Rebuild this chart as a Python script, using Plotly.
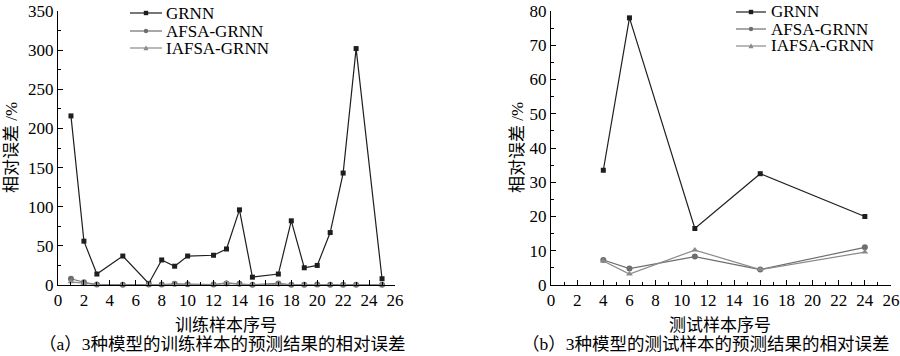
import plotly.graph_objects as go

# ---------------- data ----------------
train_x = [1, 2, 3, 5, 7, 8, 9, 10, 12, 13, 14, 15, 17, 18, 19, 20, 21, 22, 23, 25]
train_grnn = [216, 56, 14, 37, 2, 32, 24, 37, 38, 46, 96, 10, 14, 82, 22, 25, 67, 143, 302, 8]
train_afsa = [8, 3.5, 0.5, 0.3, 0.5, 0.5, 1.5, 1, 0.5, 2, 1.5, 0.3, 2, 0.3, 0.3, 0.5, 0.3, 0.3, 0.3, 0.3]
train_iafsa = [4, 2, 0.5, 0.3, 0.3, 0.3, 1, 0.5, 0.3, 3, 1, 0.3, 1, 0.3, 0.3, 0.3, 0.3, 0.3, 0.3, 0.3]

test_x = [4, 6, 11, 16, 24]
test_grnn = [33.5, 78, 16.5, 32.5, 20]
test_afsa = [7.3, 4.8, 8.3, 4.5, 11]
test_iafsa = [7.0, 3.2, 10.2, 4.5, 9.6]

series_names = ["GRNN", "AFSA-GRNN", "IAFSA-GRNN"]
x_ticks = list(range(0, 27, 2))

SERIF = "Liberation Serif, Times New Roman, Noto Sans CJK SC"
CJK = "Noto Sans CJK SC"

styles = [
    dict(color="#1e1e1e", symbol="square", size=5),
    dict(color="#6e6e6e", symbol="circle", size=6),
    dict(color="#8a8a8a", symbol="triangle-up", size=6),
]

fig = go.Figure()

def add_set(xs, ys_list, xa, ya):
    for name, ys, st in zip(series_names, ys_list, styles):
        fig.add_trace(go.Scatter(
            x=xs, y=ys, mode="lines+markers", name=name, showlegend=False,
            line=dict(color=st["color"], width=1.2),
            marker=dict(color=st["color"], symbol=st["symbol"], size=st["size"]),
            xaxis=xa, yaxis=ya, cliponaxis=False,
        ))

add_set(train_x, [train_grnn, train_afsa, train_iafsa], "x", "y")
add_set(test_x, [test_grnn, test_afsa, test_iafsa], "x2", "y2")

W, H = 900, 356
def px(x):
    return x / W
def py(y):
    return 1 - y / H

axis_common = dict(
    showline=True, linecolor="black", linewidth=1,
    ticks="inside", ticklen=5, tickcolor="black", tickwidth=1,
    showgrid=False, zeroline=False, automargin=False,
    tickfont=dict(family=SERIF, size=17, color="black"),
)

xminor = dict(ticks="inside", ticklen=3, tickmode="linear", tick0=0, dtick=1, tickcolor="black")

fig.update_layout(
    width=W, height=H,
    margin=dict(l=0, r=0, t=0, b=0, autoexpand=False),
    paper_bgcolor="white", plot_bgcolor="white",
    showlegend=False,
    xaxis=dict(domain=[px(58), px(395)], anchor="y", range=[0, 26],
               tickmode="array", tickvals=x_ticks, ticktext=[str(v) for v in x_ticks],
               minor=xminor, **axis_common),
    yaxis=dict(domain=[py(285), py(11)], anchor="x", range=[0, 350], dtick=50,
               minor=dict(ticks="inside", ticklen=3, dtick=25, tickcolor="black"),
               **axis_common),
    xaxis2=dict(domain=[px(551), px(891)], anchor="y2", range=[0, 26],
                tickmode="array", tickvals=x_ticks, ticktext=[str(v) for v in x_ticks],
                minor=xminor, **axis_common),
    yaxis2=dict(domain=[py(285), py(11)], anchor="x2", range=[0, 80], dtick=10,
                minor=dict(ticks="inside", ticklen=3, dtick=5, tickcolor="black"),
                **axis_common),
)

# ---------------- custom legends (paper coordinates) ----------------
def add_legend(x0, x1, xtext, ys):
    for name, st, yy in zip(series_names, styles, ys):
        fig.add_shape(type="line", xref="paper", yref="paper",
                      x0=px(x0), x1=px(x1), y0=py(yy), y1=py(yy),
                      line=dict(color=st["color"], width=1.2))
        cx = (x0 + x1) / 2
        r = 2.2
        if st["symbol"] == "square":
            fig.add_shape(type="rect", xref="paper", yref="paper",
                          x0=px(cx - r), x1=px(cx + r), y0=py(yy + r), y1=py(yy - r),
                          fillcolor=st["color"], line=dict(width=0))
        elif st["symbol"] == "circle":
            fig.add_shape(type="circle", xref="paper", yref="paper",
                          x0=px(cx - r), x1=px(cx + r), y0=py(yy + r), y1=py(yy - r),
                          fillcolor=st["color"], line=dict(width=0))
        else:
            path = "M {} {} L {} {} L {} {} Z".format(
                px(cx - r - 0.3), py(yy + r), px(cx + r + 0.3), py(yy + r), px(cx), py(yy - r - 0.5))
            fig.add_shape(type="path", xref="paper", yref="paper", path=path,
                          fillcolor=st["color"], line=dict(width=0))
        fig.add_annotation(xref="paper", yref="paper", showarrow=False,
                           x=px(xtext), y=py(yy), xanchor="left", yanchor="middle",
                           text=name, font=dict(family=SERIF, size=17, color="black"))

add_legend(130, 162, 164, [13, 31, 48])
add_legend(736, 766, 769, [12, 29, 46])

annots = [
    dict(text="训练样本序号", x=px(226), y=py(323), font=dict(family=CJK, size=17)),
    dict(text="（a）3种模型的训练样本的预测结果的相对误差", x=px(222), y=py(344), font=dict(family=SERIF, size=17.5)),
    dict(text="测试样本序号", x=px(720), y=py(323), font=dict(family=CJK, size=17)),
    dict(text="（b）3种模型的测试样本的预测结果的相对误差", x=px(706), y=py(344), font=dict(family=SERIF, size=17.5)),
    dict(text="相对误差 /%", x=px(11), y=py(148), textangle=-90, font=dict(family=SERIF, size=17)),
    dict(text="相对误差 /%", x=px(517), y=py(148), textangle=-90, font=dict(family=SERIF, size=17)),
]
for a in annots:
    a["font"]["color"] = "black"
    fig.add_annotation(xref="paper", yref="paper", showarrow=False,
                       xanchor="center", yanchor="middle", **a)

fig.write_html(
    "out.html",
    config={"displayModeBar": False},
    post_script="document.body.style.margin='0';document.body.style.padding='0';"
                "document.documentElement.style.overflow='hidden';",
)
